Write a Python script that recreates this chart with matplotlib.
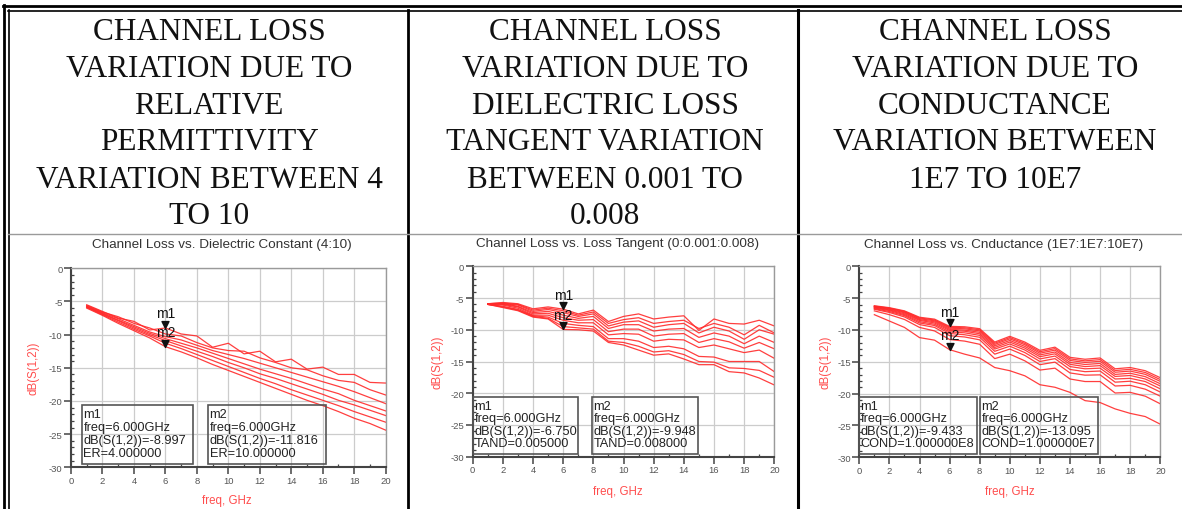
import matplotlib
matplotlib.use("Agg")
import matplotlib.pyplot as plt
from matplotlib.lines import Line2D
from matplotlib.patches import Rectangle
from matplotlib.path import Path
from matplotlib.ticker import MultipleLocator

plt.rcParams['axes.unicode_minus'] = False

# ---- data -------------------------------------------------------------
freq = list(range(1, 21))

# relative permittivity sweep 4..10
er_vals = [4, 5, 6, 7, 8, 9, 10]
er_curves = [
    [-5.5, -6.5, -7.5, -8.0, -9.3, -8.997, -9.9, -10.2, -11.9, -11.3, -12.9, -12.5, -14.1, -13.7, -15.2, -14.9, -16.0, -16.0, -17.2, -17.3],
    [-5.6, -6.6, -7.3, -8.3, -9.0, -9.9, -10.2, -11.2, -12.0, -12.4, -12.5, -13.5, -14.2, -15.0, -15.3, -16.2, -16.9, -17.2, -18.3, -19.1],
    [-5.7, -6.7, -7.6, -8.6, -9.6, -10.3, -10.8, -11.6, -12.4, -13.0, -13.6, -14.3, -15.0, -15.7, -16.4, -17.1, -17.8, -18.6, -19.5, -20.4],
    [-5.8, -6.8, -7.8, -8.8, -9.8, -10.6, -11.3, -12.0, -12.8, -13.6, -14.4, -15.2, -15.9, -16.6, -17.4, -18.2, -18.9, -19.9, -20.7, -21.5],
    [-5.8, -6.9, -7.9, -9.0, -10.0, -10.9, -11.7, -12.5, -13.3, -14.2, -15.0, -15.9, -16.6, -17.4, -18.2, -19.0, -19.9, -20.6, -21.4, -22.2],
    [-5.9, -7.0, -8.1, -9.2, -10.2, -11.3, -12.1, -13.0, -13.9, -14.8, -15.7, -16.6, -17.4, -18.3, -19.1, -19.9, -20.7, -21.6, -22.4, -23.2],
    [-6.0, -7.1, -8.3, -9.4, -10.5, -11.816, -12.6, -13.5, -14.5, -15.4, -16.3, -17.2, -18.1, -19.0, -19.9, -20.7, -21.6, -22.6, -23.4, -24.4],
]

# loss tangent sweep 0..0.008
tand_vals = [0.0, 0.001, 0.002, 0.003, 0.004, 0.005, 0.006, 0.007, 0.008]
tand_curves = [
    [-5.9, -5.8, -6.0, -6.9, -6.6, -7.0, -7.7, -7.2, -9.0, -8.4, -8.1, -9.0, -8.7, -8.5, -9.8, -9.0, -9.6, -10.8, -9.3, -10.5],
    [-5.9, -5.9, -6.1, -7.1, -6.8, -7.3, -7.9, -7.5, -9.4, -8.8, -8.6, -9.6, -9.2, -9.0, -10.5, -9.6, -10.2, -11.5, -10.0, -10.7],
    [-5.9, -5.9, -6.3, -7.3, -7.1, -7.7, -8.2, -7.9, -9.8, -9.2, -9.2, -10.2, -9.9, -9.8, -11.2, -10.5, -11.0, -12.2, -11.0, -12.0],
    [-5.9, -6.0, -6.4, -7.5, -7.4, -8.1, -8.5, -8.4, -10.3, -9.9, -9.9, -11.0, -10.7, -10.6, -12.0, -11.4, -11.9, -12.9, -12.0, -13.0],
    [-6.0, -6.1, -6.6, -7.7, -7.7, -8.5, -8.9, -8.9, -10.8, -10.6, -10.7, -11.8, -11.5, -11.6, -12.8, -12.4, -13.0, -13.6, -13.2, -14.5],
    [-5.9, -5.7, -5.9, -6.7, -6.4, -6.75, -7.5, -6.9, -8.7, -7.9, -7.5, -8.3, -8.0, -7.8, -10.1, -8.3, -9.0, -9.1, -8.5, -9.4],
    [-6.0, -6.3, -6.8, -7.8, -8.0, -9.0, -9.3, -9.5, -11.4, -11.4, -11.8, -12.8, -12.6, -13.0, -14.2, -14.3, -15.0, -15.0, -15.0, -16.6],
    [-6.0, -6.4, -6.9, -7.9, -8.2, -9.5, -9.7, -9.9, -11.8, -12.0, -12.6, -13.5, -13.3, -13.9, -15.0, -15.1, -16.0, -16.1, -16.4, -17.5],
    [-6.0, -6.5, -7.0, -8.0, -8.3, -9.948, -10.0, -10.2, -12.0, -12.4, -13.2, -14.0, -13.8, -14.6, -15.5, -15.5, -16.6, -16.8, -17.6, -18.7],
]

# conductivity sweep 1E7..10E7
cond_vals = [1e7, 2e7, 3e7, 4e7, 5e7, 6e7, 7e7, 8e7, 9e7, 1e8]
cond_curves = [
    [-7.6, -8.6, -9.6, -11.2, -11.6, -13.095, -13.8, -14.4, -15.9, -16.4, -17.2, -18.6, -19.0, -19.8, -21.1, -21.4, -22.4, -23.1, -23.6, -24.8],
    [-7.0, -7.6, -8.35, -9.6, -10.15, -11.5, -11.75, -12.25, -14.5, -13.8, -14.85, -16.3, -16.0, -17.7, -18.1, -18.1, -19.9, -19.8, -20.4, -21.6],
    [-6.75, -7.25, -7.95, -9.15, -9.6, -10.9, -11.1, -11.55, -13.8, -13.0, -14.0, -15.45, -15.05, -16.75, -17.1, -17.05, -18.8, -18.7, -19.3, -20.4],
    [-6.65, -7.1, -7.75, -8.9, -9.3, -10.55, -10.75, -11.15, -13.35, -12.55, -13.55, -14.95, -14.5, -16.2, -16.55, -16.45, -18.2, -18.05, -18.6, -19.75],
    [-6.55, -6.95, -7.6, -8.7, -9.1, -10.3, -10.45, -10.85, -13.0, -12.2, -13.15, -14.55, -14.1, -15.75, -16.1, -16.0, -17.7, -17.6, -18.1, -19.25],
    [-6.45, -6.85, -7.45, -8.5, -8.9, -10.08, -10.2, -10.6, -12.75, -11.9, -12.85, -14.2, -13.75, -15.4, -15.75, -15.6, -17.3, -17.15, -17.7, -18.8],
    [-6.38, -6.75, -7.3, -8.37, -8.72, -9.9, -10.02, -10.37, -12.5, -11.65, -12.58, -13.92, -13.46, -15.1, -15.42, -15.26, -16.98, -16.8, -17.33, -18.45],
    [-6.31, -6.65, -7.19, -8.23, -8.56, -9.72, -9.82, -10.15, -12.27, -11.4, -12.32, -13.65, -13.17, -14.79, -15.1, -14.93, -16.64, -16.46, -16.97, -18.08],
    [-6.25, -6.57, -7.09, -8.11, -8.43, -9.57, -9.66, -9.97, -12.08, -11.2, -12.11, -13.42, -12.93, -14.54, -14.85, -14.66, -16.37, -16.18, -16.68, -17.79],
    [-6.2, -6.5, -7.0, -8.0, -8.3, -9.433, -9.5, -9.8, -11.9, -11.0, -11.9, -13.2, -12.7, -14.3, -14.6, -14.4, -16.1, -15.9, -16.4, -17.5],
]

headers = [
    ["CHANNEL LOSS", "VARIATION DUE TO", "RELATIVE", "PERMITTIVITY", "VARIATION BETWEEN 4", "TO 10"],
    ["CHANNEL LOSS", "VARIATION DUE TO", "DIELECTRIC LOSS", "TANGENT VARIATION", "BETWEEN 0.001 TO", "0.008"],
    ["CHANNEL LOSS", "VARIATION DUE TO", "CONDUCTANCE", "VARIATION BETWEEN", "1E7 TO 10E7"],
]
titles = ["Channel Loss vs. Dielectric Constant (4:10)",
          "Channel Loss vs. Loss Tangent (0:0.001:0.008)",
          "Channel Loss vs. Cnductance (1E7:1E7:10E7)"]

# ---- layout helpers (pixel coordinates, origin top-left) ---------------
W, H = 1182, 510
fig = plt.figure(figsize=(W / 100, H / 100), dpi=100)
fig.patch.set_facecolor('white')


def fx(x):
    return x / W


def fy(y):
    return 1 - y / H


def hline(x0, x1, y, lw, color='black'):
    fig.add_artist(Line2D([fx(x0), fx(x1)], [fy(y), fy(y)], lw=lw, color=color,
                          transform=fig.transFigure))


def vline(x, y0, y1, lw, color='black'):
    fig.add_artist(Line2D([fx(x), fx(x)], [fy(y0), fy(y1)], lw=lw, color=color,
                          transform=fig.transFigure))


# table frame
hline(3, W, 7, 2.0)
hline(8, W, 11.5, 1.2)
vline(3.5, 6, H, 2.0)
vline(8.5, 11, H, 1.2)
vline(408, 11, H, 2.0)
vline(798, 11, H, 2.2)
hline(8, W, 234.5, 1.0, '#9a9a9a')

# header cells
col_x = [209, 605, 995]
row_y = [33, 70, 106, 143, 180, 216]
for cx, lines in zip(col_x, headers):
    for ry, txt in zip(row_y, lines):
        fig.text(fx(cx), fy(ry), txt, ha='center', va='center',
                 family='Liberation Serif', fontsize=22.5, color='#111111')

# marker triangle with its tip on the data point
tri = Path([(-0.5, 1.0), (0.5, 1.0), (0.0, 0.0), (-0.5, 1.0)],
           [Path.MOVETO, Path.LINETO, Path.LINETO, Path.CLOSEPOLY])

panels = [
    dict(curves=er_curves, ax=(71, 269.3, 385.7, 468.3), title=(222, 245),
         ylab=(33, 368), xlab=(227, 501.5),
         m1=0, m2=6, par='ER', fmt=['4.000000', '10.000000'],
         boxes=[(82, 406, 193, 465), (208, 406, 326, 465)], lines=[9, 22, 35, 48]),
    dict(curves=tand_curves, ax=(472.7, 267.3, 774.3, 457.7), title=(618, 244.3),
         ylab=(437, 362), xlab=(618, 491.7),
         m1=5, m2=8, par='TAND', fmt=['0.005000', '0.008000'],
         boxes=[(473, 398, 578, 455), (592, 398, 698, 455)], lines=[9, 21.5, 34, 46.5]),
    dict(curves=cond_curves, ax=(859.3, 267.3, 1160.3, 458.3), title=(1004, 245),
         ylab=(825, 362), xlab=(1010, 491.7),
         m1=9, m2=0, par='COND', fmt=['1.000000E8', '1.000000E7'],
         boxes=[(859, 398, 977, 455), (980, 398, 1098, 455)], lines=[9, 21.5, 34, 46.5]),
]

for p, title in zip(panels, titles):
    x0, y0, x1, y1 = p['ax']
    ax = fig.add_axes([fx(x0), fy(y1), (x1 - x0) / W, (y1 - y0) / H])
    for c in p['curves']:
        ax.plot(freq, c, color='#ff2a2a', lw=0.9, alpha=0.9)

    ax.set_xlim(0, 20)
    ax.set_ylim(-30, 0)
    ax.set_xticks(range(0, 21, 2))
    ax.set_yticks(range(-30, 1, 5))
    ax.xaxis.set_minor_locator(MultipleLocator(1))
    ax.yaxis.set_minor_locator(MultipleLocator(1))
    ax.tick_params(which='major', direction='out', length=5, width=1.1,
                   color='#444444', labelsize=6.8, labelcolor='#555555', pad=1)
    ax.tick_params(which='minor', direction='in', length=2.5, width=0.9, color='#444444')
    for lab in ax.get_xticklabels() + ax.get_yticklabels():
        lab.set_family('Liberation Sans')
    ax.grid(True, which='major', color='#cccccc', lw=0.9)
    ax.set_axisbelow(True)
    for side in ['left', 'bottom']:
        ax.spines[side].set_color('#444444')
        ax.spines[side].set_linewidth(1.5)
    for side in ['top', 'right']:
        ax.spines[side].set_color('#9a9a9a')
        ax.spines[side].set_linewidth(1.0)

    # markers m1 / m2 at 6 GHz
    vals = []
    for name, idx in [('m1', p['m1']), ('m2', p['m2'])]:
        v = p['curves'][idx][5]
        vals.append(v)
        ax.plot(6, v, marker=tri, ms=10, color='#111111', clip_on=False, zorder=5)
        ax.annotate(name, (6, v), xytext=(0, 10.5), textcoords='offset points',
                    ha='center', va='center', fontsize=10, family='Liberation Sans',
                    color='#111111', zorder=6)

    # marker readout boxes
    for (bx0, by0, bx1, by1), name, v, pv in zip(p['boxes'], ['m1', 'm2'], vals, p['fmt']):
        fig.add_artist(Rectangle((fx(bx0), fy(by1)), (bx1 - bx0) / W, (by1 - by0) / H,
                                 transform=fig.transFigure, fill=False,
                                 edgecolor='#555555', lw=1.2))
        txts = [name, 'freq=6.000GHz', 'dB(S(1,2))=%.3f' % v, '%s=%s' % (p['par'], pv)]
        for off, t in zip(p['lines'], txts):
            fig.text(fx(bx0 + 1.5), fy(by0 + off), t, ha='left', va='center',
                     fontsize=9.2, family='Liberation Sans', color='#222222')

    fig.text(fx(p['title'][0]), fy(p['title'][1]), title, ha='center', va='center',
             fontsize=9.7, family='Liberation Sans', color='#333333')
    fig.text(fx(p['ylab'][0]), fy(p['ylab'][1]), 'dB(S(1,2))', rotation=90,
             ha='center', va='center', fontsize=8.3, family='Liberation Sans', color='#ff4d4d')
    fig.text(fx(p['xlab'][0]), fy(p['xlab'][1]), 'freq, GHz', ha='center', va='center',
             fontsize=8.3, family='Liberation Sans', color='#ff4d4d')

fig.savefig('out.png', dpi=100)
